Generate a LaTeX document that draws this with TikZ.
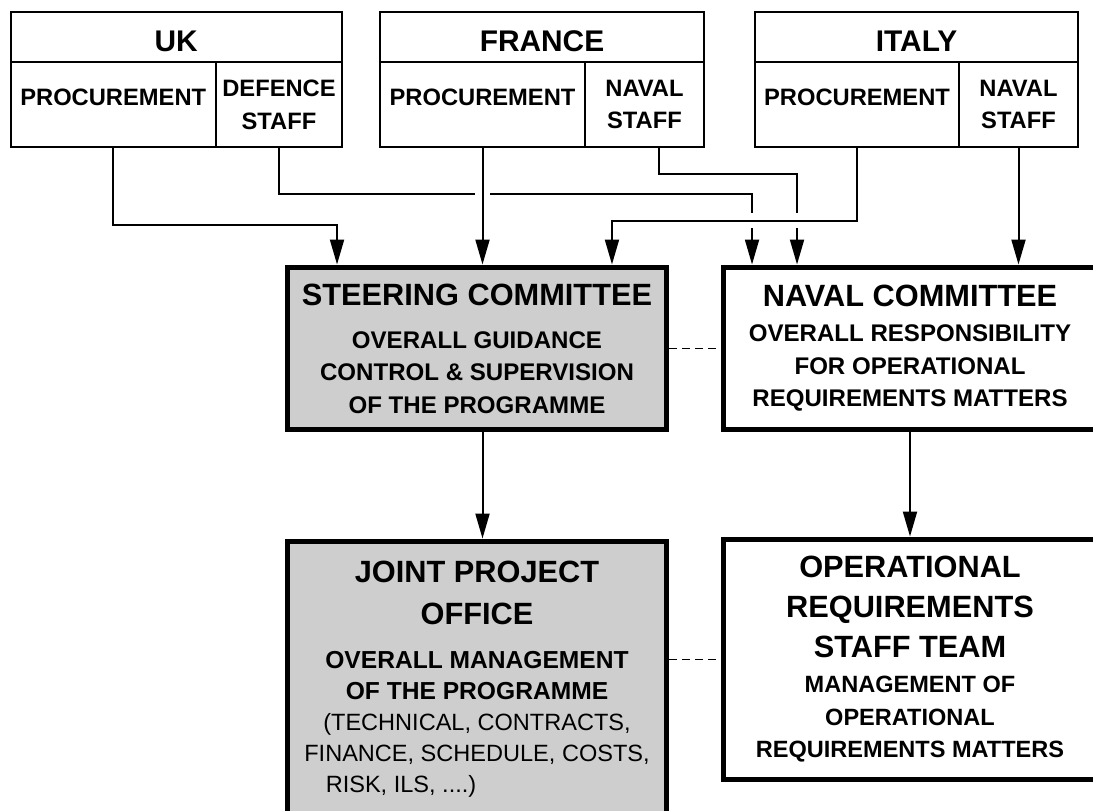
\documentclass[tikz,border=0pt]{standalone}
\usepackage{fontspec}
\setmainfont{Liberation Sans}
\usetikzlibrary{arrows.meta, positioning, backgrounds}
\definecolor{boardgrey}{RGB}{206,206,206}
\tikzset{
    country/.style={rectangle, draw, line width=0.04cm, fill=white, inner sep=0pt, font=\fontsize{13.5}{18.7}\selectfont\bfseries, align=center},
    header/.style={country, minimum height=1cm, text height=16.8pt, font=\fontsize{17}{20}\selectfont\bfseries},
    branch/.style={country, minimum height=1.7cm},
    board/.style={rectangle, draw, line width=0.1cm, fill=boardgrey, inner sep=0pt, align=center, font=\fontsize{13.7}{18.5}\selectfont\bfseries},
    team/.style={board, fill=white},
    arrow/.style={-{Triangle[length=0.5cm, width=0.28cm]}, line width=0.04cm},
    bridge/.style={preaction={draw=white, line width=0.3cm, -}},
    liaison/.style={dash pattern=on 0.16cm off 0.1cm, line width=0.025cm},
}
\newcommand{\boxtitle}{\fontsize{17.5}{20}\selectfont}
\newcommand{\boxplain}{\fontsize{13.4}{17.5}\selectfont\mdseries}

\begin{document}
\begin{tikzpicture}[x=0.02cm, y=-0.02cm]
    \useasboundingbox (0,0) rectangle (1093,811);
    \clip (0,0) rectangle (1093,811);

    \node[header, minimum width=6.63cm] (uk) at (176.25,37) {UK};
    \node[branch, minimum width=4.11cm, text depth=8.5pt] (ukproc) at (113.25,104.5) {PROCUREMENT};
    \node[branch, minimum width=2.52cm] (ukstaff) at (279,104.5) {DEFENCE\\STAFF};
    \node[header, minimum width=6.48cm] (france) at (542,37) {FRANCE};
    \node[branch, minimum width=4.1cm, text depth=8.5pt] (fraproc) at (482.5,104.5) {PROCUREMENT};
    \node[branch, minimum width=2.38cm] (frastaff) at (644.5,104.5) {NAVAL\\STAFF};
    \node[header, minimum width=6.46cm] (italy) at (916.5,37) {ITALY};
    \node[branch, minimum width=4.08cm, text depth=8.5pt] (itaproc) at (857,104.5) {PROCUREMENT};
    \node[branch, minimum width=2.38cm] (itastaff) at (1018.5,104.5) {NAVAL\\STAFF};

    \node[board, minimum width=7.6cm, minimum height=3.26cm] (steer) at (477,348.5) {{\boxtitle STEERING COMMITTEE}\\[6pt] OVERALL GUIDANCE\\ CONTROL \& SUPERVISION\\ OF THE PROGRAMME};
    \node[team, minimum width=7.48cm, minimum height=3.26cm] (naval) at (910,348.5) {{\boxtitle NAVAL COMMITTEE}\\[1.5pt] OVERALL RESPONSIBILITY\\ FOR OPERATIONAL\\ REQUIREMENTS MATTERS};
    \node[board, minimum width=7.6cm, minimum height=5.52cm, font=\fontsize{14}{17.6}\selectfont\bfseries] (jpo) at (477,679) {{\boxtitle JOINT PROJECT}\\[6.2pt] {\boxtitle OFFICE}\\[7.6pt] OVERALL MANAGEMENT\\ OF THE PROGRAMME\\ {\boxplain (TECHNICAL, CONTRACTS,}\\ {\boxplain FINANCE, SCHEDULE, COSTS,}\\ {\boxplain RISK, ILS, ....)\hspace*{3.04cm}}};
    \node[team, minimum width=7.48cm, minimum height=4.82cm, font=\fontsize{13.4}{18.5}\selectfont\bfseries] (orst) at (910,659.5) {{\boxtitle OPERATIONAL}\\[4.2pt] {\boxtitle REQUIREMENTS}\\[4.2pt] {\boxtitle STAFF TEAM}\\[1.5pt] MANAGEMENT OF\\ OPERATIONAL\\ REQUIREMENTS MATTERS};

    \begin{scope}[on background layer]
        \draw[arrow] (ukproc.south) -- ++(0,77) -| ([xshift=-2.8cm]steer.north);
        \draw[arrow] (ukstaff.south) -- ++(0,46) -| ([xshift=-3.16cm]naval.north);
        \draw[arrow] ([xshift=0.28cm]frastaff.south) -- ++(0,26) -| ([xshift=-2.26cm]naval.north);
        \draw[arrow, bridge] (fraproc.south) -- (fraproc.south |- steer.north);
        \draw[arrow, bridge] (itaproc.south) -- ++(0,73) -| ([xshift=2.7cm]steer.north);
        \draw[arrow] (itastaff.south) -- (itastaff.south |- naval.north);
        \draw[arrow] (steer.south -| fraproc.south) -- (fraproc.south |- jpo.north);
        \draw[arrow] (naval.south) -- (orst.north);
        \draw[liaison] (steer.east) -- (naval.west);
        \draw[liaison] (jpo.east |- orst.west) -- (orst.west);
    \end{scope}
\end{tikzpicture}
\end{document}
